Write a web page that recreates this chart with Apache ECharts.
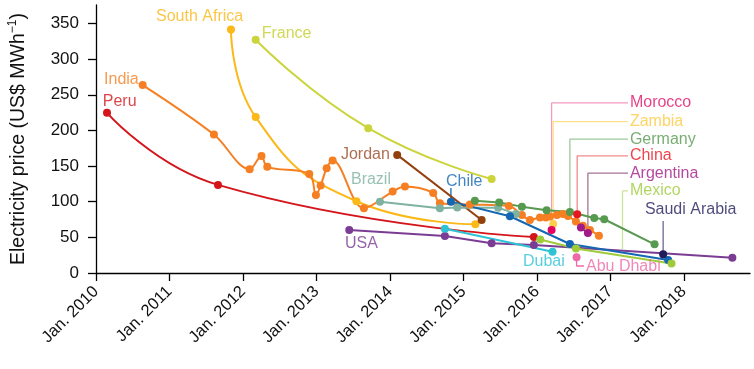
<!DOCTYPE html>
<html><head><meta charset="utf-8">
<script src="https://cdn.jsdelivr.net/npm/echarts@6/dist/echarts.min.js"></script>
<style>html,body{margin:0;padding:0;background:#fff}#c{width:754px;height:369px}</style>
</head><body><div id="c"></div>
<script>
// ---- Data (x = decimal year, y = US$/MWh) ----
const yearTicks = [2010, 2011, 2012, 2013, 2014, 2015, 2016, 2017, 2018];
const priceTicks = [0, 50, 100, 150, 200, 250, 300, 350];

const peru = [[2010.150, 224.7], [2011.660, 123.6], [2015.959, 50.6]];
const southAfrica = [[2011.837, 341.7], [2012.173, 218.7], [2013.544, 100.7], [2015.163, 68.4]];
const france = [[2012.173, 327.2], [2013.705, 203.2], [2015.384, 132.0]];
const india = [[2010.635, 263.6], [2011.605, 194.2], [2012.091, 145.6], [2012.252, 164.3], [2012.331, 148.9],
  [2012.902, 139.0], [2012.993, 109.6], [2013.057, 122.6], [2013.139, 147.1], [2013.220, 157.7],
  [2013.646, 90.9], [2014.037, 114.2], [2014.204, 121.2], [2014.589, 112.4], [2014.680, 97.9],
  [2015.088, 96.2], [2015.619, 94.1], [2015.796, 81.5], [2015.905, 74.4], [2016.041, 77.7],
  [2016.122, 78.0], [2016.177, 79.4], [2016.272, 81.5], [2016.354, 82.9], [2016.422, 80.1],
  [2016.531, 72.1], [2016.626, 66.4], [2016.721, 60.4], [2016.844, 52.4]];
const jordan = [[2014.099, 165.7], [2015.248, 74.4]];
const brazil = [[2013.864, 100.1], [2014.680, 90.9], [2014.916, 92.0], [2015.473, 91.7], [2015.714, 82.9]];
const usa = [[2013.446, 60.4], [2014.748, 52.0], [2015.384, 41.7], [2015.959, 39.3], [2018.660, 21.5]];
const dubai = [[2014.748, 62.2], [2016.213, 29.9]];
const chile = [[2014.830, 100.1], [2015.633, 79.6], [2016.449, 40.7], [2017.786, 18.3]];
const germany = [[2015.156, 101.5], [2015.487, 99.0], [2015.796, 93.1], [2016.132, 88.1], [2016.449, 85.7],
  [2016.780, 77.2], [2016.916, 75.4], [2017.601, 40.3]];
const zambia = [[2016.222, 68.8]];
const morocco = [[2016.200, 60.4]];
const china = [[2016.548, 82.4]];
const argentina = [[2016.599, 63.9], [2016.694, 56.2]];
const mexico = [[2016.045, 47.1], [2016.531, 34.4], [2017.832, 13.3]];
const abuDhabi = [[2016.540, 22.1]];
const saudiArabia = [[2017.718, 26.3]];

// ---- Styling / annotations ----
const countries = [
  ['Peru', peru, '#d4151b', true],
  ['South Africa', southAfrica, '#fbb817', true],
  ['France', france, '#cbd43a', true],
  ['India', india, '#f57f22', 0.35],
  ['Jordan', jordan, '#93400f', false],
  ['Brazil', brazil, '#7fb2a0', false],
  ['USA', usa, '#7b3c93', false],
  ['Dubai', dubai, '#2ec3d4', false],
  ['Germany', germany, '#56994f', false],
  ['Zambia', zambia, '#fece4a', false],
  ['Morocco', morocco, '#e4005f', false],
  ['China', china, '#e8151f', false],
  ['Argentina', argentina, '#a01a88', false],
  ['Chile', chile, '#1467b0', false],
  ['Mexico', mexico, '#9fcb3a', false],
  ['Abu Dhabi', abuDhabi, '#ee6aa7', false],
  ['Saudi Arabia', saudiArabia, '#211c5c', false]
];
// label anchors (left edge, middle) in data units
const labelAnchors = [
  ['Peru', 2010.091, 240.6, '#d4151b'],
  ['India', 2010.109, 271.1, '#f57f22'],
  ['South Africa', 2010.816, 359.6, '#fbb817'],
  ['France', 2012.254, 335.3, '#c4cf2a'],
  ['Jordan', 2013.333, 165.7, '#9a4a26'],
  ['Brazil', 2013.469, 130.6, '#7fb2a0'],
  ['Chile', 2014.762, 127.8, '#1467b0'],
  ['USA', 2013.388, 40.7, '#7b3c93'],
  ['Dubai', 2015.810, 15.4, '#2ec3d4'],
  ['Abu Dhabi', 2016.667, 8.4, '#ee6aa7'],
  ['Saudi Arabia', 2017.469, 88.5, '#211c5c'],
  ['Morocco', 2017.265, 238.8, '#e0126a'],
  ['Zambia', 2017.265, 212.5, '#fdc93e'],
  ['Germany', 2017.265, 187.8, '#56994f'],
  ['China', 2017.265, 164.3, '#e8151f'],
  ['Argentina', 2017.265, 140.0, '#a01a88'],
  ['Mexico', 2017.265, 115.2, '#9fcb3a']
];
const leaders = [
  ['#f49ac0', [[2016.200, 60.4], [2016.200, 238.6], [2017.24, 238.6]]],
  ['#fde08a', [[2016.222, 68.8], [2016.222, 212.5], [2017.24, 212.5]]],
  ['#9fc99a', [[2016.449, 85.7], [2016.449, 187.8], [2017.24, 187.8]]],
  ['#f08a8a', [[2016.548, 82.4], [2016.548, 164.3], [2017.24, 164.3]]],
  ['#a57595', [[2016.694, 56.2], [2016.694, 140.0], [2017.24, 140.0]]],
  ['#cde39a', [[2017.165, 33.7], [2017.165, 115.2], [2017.24, 115.2]]],
  ['#ee6aa7', [[2016.540, 22.1], [2016.540, 9.8], [2016.64, 9.8]]],
  ['#6a6890', [[2017.718, 26.3], [2017.718, 73.0]]],
  ['#1467b0', [[2014.830, 100.1], [2014.830, 119.4]]]
];

const FONT = '"Liberation Sans", Arial, Helvetica, sans-serif';
const series = [];
leaders.forEach(([c, pts]) => series.push({
  type: 'line', data: pts, symbol: 'none', silent: true, z: 1,
  lineStyle: { color: c, width: 1.3 }
}));
countries.forEach(([name, data, color, smooth]) => series.push({
  name, type: 'line', data, smooth, symbol: 'circle', symbolSize: 8, z: 3,
  itemStyle: { color }, lineStyle: { color, width: 2 }
}));
series.push({
  type: 'scatter', silent: true, z: 5, symbolSize: 0.1,
  itemStyle: { color: 'rgba(0,0,0,0)' },
  data: labelAnchors.map(([n, x, y, c]) => ({
    value: [x, y], name: n,
    label: { show: true, position: 'right', distance: 0, formatter: n, color: c,
      fontSize: 16, fontFamily: FONT }
  }))
});

const chart = echarts.init(document.getElementById('c'), null, { renderer: 'canvas' });
chart.setOption({
  animation: false,
  backgroundColor: '#fff',
  grid: { left: 96, right: 4, top: 5, bottom: 96, containLabel: false, outerBoundsMode: 'none' },
  xAxis: {
    type: 'value', min: 2010, max: 2018.9,
    splitLine: { show: false },
    axisLine: { lineStyle: { color: '#000', width: 1.3 } },
    axisTick: { customValues: yearTicks, length: 8, lineStyle: { color: '#000', width: 1.3 } },
    axisLabel: { customValues: yearTicks, rotate: 45, margin: 16, color: '#111', fontSize: 16.5,
      fontFamily: FONT, formatter: v => 'Jan. ' + v }
  },
  yAxis: {
    type: 'value', min: 0, max: 376,
    splitLine: { show: false },
    axisLine: { show: true, lineStyle: { color: '#000', width: 1.3 } },
    axisTick: { show: true, customValues: priceTicks, length: 8, lineStyle: { color: '#000', width: 1.3 } },
    axisLabel: { customValues: priceTicks, margin: 17, color: '#111', fontSize: 17, fontFamily: FONT },
    name: '{a|Electricity price (US$ MWh}{s|−1}{a|)}',
    nameLocation: 'middle', nameGap: 65,
    nameTextStyle: {
      fontFamily: FONT,
      rich: {
        a: { fontSize: 19.5, fontFamily: FONT, color: '#111', lineHeight: 24 },
        s: { fontSize: 12, fontFamily: FONT, color: '#111', lineHeight: 13, verticalAlign: 'top' }
      }
    }
  },
  series
});
</script></body></html>
